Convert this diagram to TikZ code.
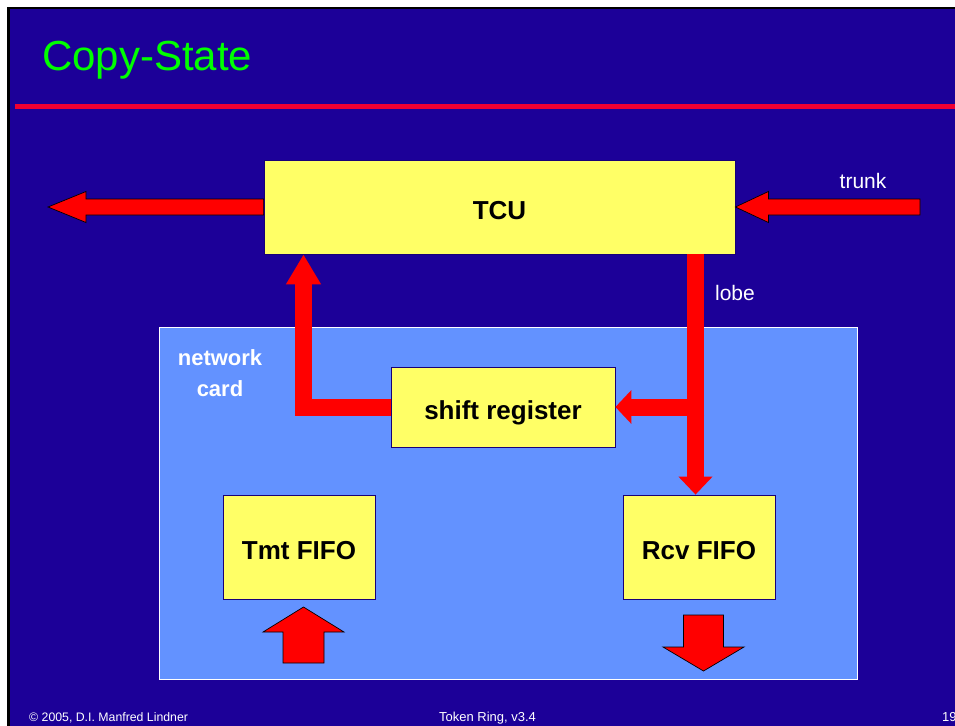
\documentclass[tikz,border=0pt]{standalone}
\usepackage{fontspec}
\setmainfont{Liberation Sans}
\usetikzlibrary{arrows.meta,calc}

\definecolor{slideblue}{RGB}{28,0,152}
\definecolor{cardblue}{RGB}{99,146,255}
\definecolor{boxyellow}{RGB}{255,255,102}
\definecolor{boxline}{RGB}{24,0,120}
\definecolor{titlegreen}{RGB}{0,255,0}
\definecolor{rulered}{RGB}{240,0,50}

\tikzset{
  box/.style={draw=boxline, line width=0.8pt, fill=boxyellow, inner sep=0pt,
              text height=24.6pt, text depth=0pt,
              font=\fontsize{26}{30}\selectfont\bfseries},
  label text/.style={text=white, inner sep=0pt, font=\fontsize{21}{25}\selectfont},
  footer/.style={text=white, inner sep=0pt, font=\fontsize{13}{15}\selectfont},
  flow/.style={draw=red, line width=17pt, line join=miter,
               -{Triangle[length=#1, width=33pt]}},
  outlined/.style={fill=red, draw=black, line width=0.7pt, line join=miter}
}

\begin{document}
\begin{tikzpicture}[x=1pt, y=-1pt]
  \useasboundingbox (0,0) rectangle (955,725);
  \clip (0,0) rectangle (955,725);

  % slide background with its black frame
  \fill[white] (0,0) rectangle (955,725);
  \fill[black] (7,7) rectangle (960,730);
  \fill[slideblue] (10,9.5) rectangle (960,730);

  % title and rule
  \node[anchor=base west, inner sep=0pt, text=titlegreen,
        font=\fontsize{42}{50}\selectfont] (title) at (42,70.5) {Copy-State};
  \fill[rulered] (15,104) rectangle (955,108.6);

  % network card area
  \node[draw=white, line width=1pt, fill=cardblue, inner sep=0pt,
        minimum width=698pt, minimum height=352pt] (card) at (508,503) {};
  \node[text=white, inner sep=0pt, align=center,
        font=\fontsize{22}{31}\selectfont\bfseries] (cardlabel) at (220,373.5)
        {network\\card};

  % boxes
  \node[box, minimum width=471pt, minimum height=94pt] (tcu) at (499.5,207) {TCU};
  \node[box, minimum width=224pt, minimum height=80pt] (shift) at (503,407) {shift register};
  \node[box, minimum width=152pt, minimum height=104pt] (tmt) at (299,547) {Tmt FIFO};
  \node[box, minimum width=152pt, minimum height=104pt] (rcv) at (699,547) {Rcv FIFO};

  % labels
  \node[label text] (trunklabel) at (863,181) {trunk};
  \node[label text] (lobelabel) at (735,292.5) {lobe};

  % reference points for the flows
  \coordinate (outTip) at (48,207);
  \coordinate (trunkTail) at (920,207);
  \coordinate (lobeTop) at (695.5,254);
  \coordinate (upX) at (303.5,0);
  \coordinate (txTip) at (303.5,607);
  \coordinate (rxTip) at (703.5,671);

  % ring out of the TCU
  \draw[outlined] ($(tcu.west)+(0,-8)$) -- ($(outTip)+(38,-8)$) -- ($(outTip)+(38,-15.5)$)
    -- (outTip) -- ($(outTip)+(38,15.5)$) -- ($(outTip)+(38,8)$) -- ($(tcu.west)+(0,8)$) -- cycle;

  % trunk into the TCU
  \draw[outlined] ($(trunkTail)+(0,-8)$) -- ($(tcu.east)+(33,-8)$) -- ($(tcu.east)+(33,-15.5)$)
    -- (tcu.east) -- ($(tcu.east)+(33,15.5)$) -- ($(tcu.east)+(33,8)$) -- ($(trunkTail)+(0,8)$) -- cycle;

  % lobe down to the receive FIFO
  \draw[flow=18pt] (lobeTop) -- (lobeTop |- rcv.north);
  % copy branch into the shift register
  \draw[flow=16pt] ($(lobeTop |- shift.east)+(8.5,0)$) -- (shift.east);
  % shift register back up to the TCU
  \draw[flow=30pt] (shift.west) -- (shift.west -| upX) -- (upX |- tcu.south);

  % transmit input arrow
  \begin{scope}[shift={(txTip)}]
    \draw[outlined] (0,0) -- (40.5,25) -- (20.5,25) -- (20.5,56) -- (-20.5,56)
      -- (-20.5,25) -- (-40.5,25) -- cycle;
  \end{scope}
  % receive output arrow
  \begin{scope}[shift={(rxTip)}]
    \draw[outlined] (0,0) -- (40.5,-24) -- (20,-24) -- (20,-56) -- (-20,-56)
      -- (-20,-24) -- (-40.5,-24) -- cycle;
  \end{scope}

  % footer
  \node[footer, anchor=base west, font=\fontsize{12.3}{15}\selectfont] (copy) at (29,721)
    {© 2005, D.I. Manfred Lindner};
  \node[footer, anchor=base] (version) at (487.5,721) {Token Ring, v3.4};
  \node[footer, anchor=base west] (page) at (942,721) {19};
\end{tikzpicture}
\end{document}
